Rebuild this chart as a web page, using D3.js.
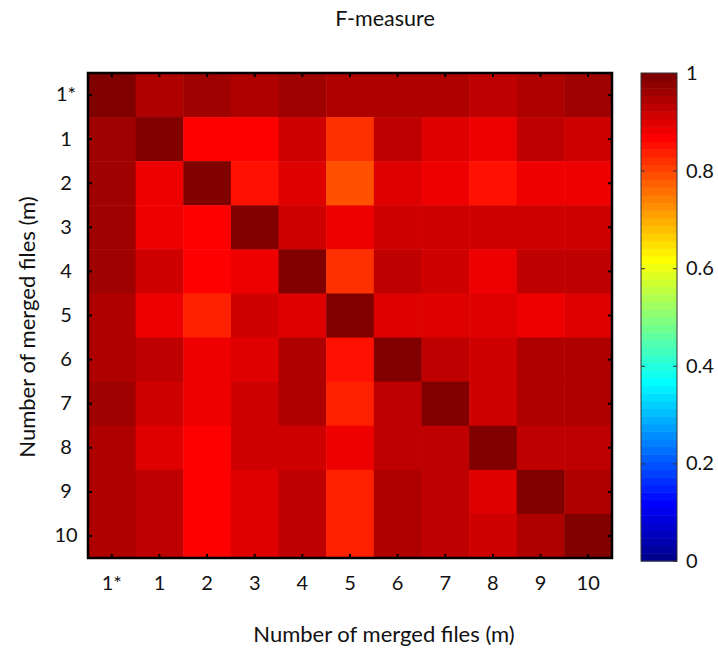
<!DOCTYPE html>
<html>
<head>
<meta charset="utf-8">
<script src="https://cdn.jsdelivr.net/npm/d3@7"></script>
<style>
body { margin: 0; background: #fff; }
text { font-family: Lato, "Open Sans", sans-serif; fill: #111; }
</style>
</head>
<body>
<div id="chart"></div>
<script>
// row / column labels (same order for both axes)
var labels = ["1*", "1", "2", "3", "4", "5", "6", "7", "8", "9", "10"];

// F-measure values, one array per row (top to bottom)
var row1s = [1.00, 0.945, 0.96, 0.945, 0.96, 0.945, 0.945, 0.945, 0.93, 0.945, 0.96];
var row1  = [0.96, 1.00, 0.87, 0.87, 0.91, 0.82, 0.93, 0.90, 0.88, 0.93, 0.91];
var row2  = [0.96, 0.88, 1.00, 0.85, 0.90, 0.79, 0.90, 0.88, 0.85, 0.88, 0.88];
var row3  = [0.96, 0.88, 0.87, 1.00, 0.91, 0.88, 0.91, 0.91, 0.91, 0.91, 0.91];
var row4  = [0.96, 0.91, 0.87, 0.88, 1.00, 0.82, 0.93, 0.91, 0.88, 0.93, 0.93];
var row5  = [0.945, 0.88, 0.84, 0.91, 0.90, 1.00, 0.90, 0.90, 0.90, 0.88, 0.90];
var row6  = [0.945, 0.93, 0.88, 0.90, 0.945, 0.85, 1.00, 0.93, 0.91, 0.945, 0.945];
var row7  = [0.96, 0.91, 0.88, 0.91, 0.945, 0.84, 0.93, 1.00, 0.91, 0.945, 0.945];
var row8  = [0.945, 0.90, 0.87, 0.91, 0.91, 0.88, 0.93, 0.93, 1.00, 0.93, 0.93];
var row9  = [0.945, 0.935, 0.87, 0.90, 0.93, 0.84, 0.945, 0.93, 0.90, 1.00, 0.945];
var row10 = [0.945, 0.935, 0.87, 0.90, 0.93, 0.84, 0.945, 0.93, 0.91, 0.945, 1.00];
var rows = [row1s, row1, row2, row3, row4, row5, row6, row7, row8, row9, row10];

var colorTicks = [0, 0.2, 0.4, 0.6, 0.8, 1];

var w = 718, h = 650;
var plot = {left: 88, right: 612, top: 73, bottom: 558};
var bar = {left: 641, right: 677, top: 73, bottom: 561};

// matlab style jet colormap with 64 steps
function jet(n) {
  var q = Math.ceil(n / 4), u = [], i;
  for (i = 1; i <= q; i++) u.push(i / q);
  for (i = 1; i < q; i++) u.push(1);
  for (i = q; i >= 1; i--) u.push(i / q);
  var off = Math.ceil(q / 2) - (n % 4 == 1 ? 1 : 0);
  var c = d3.range(n).map(function() { return [0, 0, 0]; });
  u.forEach(function(v, k) {
    var g = off + k + 1, r = g + q, b = g - q;
    if (r >= 1 && r <= n) c[r - 1][0] = v;
    if (g >= 1 && g <= n) c[g - 1][1] = v;
    if (b >= 1 && b <= n) c[b - 1][2] = v;
  });
  return c.map(function(d) { return d3.rgb(d[0] * 255, d[1] * 255, d[2] * 255).toString(); });
}
var jetColors = jet(64);
var color = d3.scaleQuantize().domain([0, 1]).range(jetColors);

var x = d3.scaleBand().domain(labels).range([plot.left, plot.right]);
var y = d3.scaleBand().domain(labels).range([plot.top, plot.bottom]);

var svg = d3.select("#chart").append("svg")
  .attr("width", w)
  .attr("height", h);

var cells = [];
rows.forEach(function(r, i) {
  r.forEach(function(v, j) {
    cells.push({row: labels[i], col: labels[j], value: v});
  });
});

svg.append("g").selectAll("rect")
  .data(cells)
  .enter()
  .append("rect")
  .attr("x", function(d) { return x(d.col); })
  .attr("y", function(d) { return y(d.row); })
  .attr("width", x.bandwidth() + 0.5)
  .attr("height", y.bandwidth() + 0.5)
  .attr("fill", function(d) { return color(d.value); });

// axes, ticks pointing inside the box
var xBottom = svg.append("g")
  .attr("transform", "translate(0," + plot.bottom + ")")
  .call(d3.axisBottom(x).tickSize(-4).tickPadding(18));
var yLeft = svg.append("g")
  .attr("transform", "translate(" + plot.left + ",0)")
  .call(d3.axisLeft(y).tickSize(-4).tickPadding(22));
var xTop = svg.append("g")
  .attr("transform", "translate(0," + plot.top + ")")
  .call(d3.axisTop(x).tickSize(-4).tickFormat(""));
var yRight = svg.append("g")
  .attr("transform", "translate(" + plot.right + ",0)")
  .call(d3.axisRight(y).tickSize(-4).tickFormat(""));

[xBottom, yLeft, xTop, yRight].forEach(function(g) {
  g.select(".domain").remove();
  g.selectAll(".tick line").attr("stroke", "#000").attr("stroke-width", 2);
  g.selectAll(".tick text").attr("font-size", 20).attr("font-family", "Lato");
});
yLeft.selectAll(".tick text").attr("text-anchor", "middle").attr("x", -22);

svg.append("rect")
  .attr("x", plot.left)
  .attr("y", plot.top)
  .attr("width", plot.right - plot.left)
  .attr("height", plot.bottom - plot.top)
  .attr("fill", "none")
  .attr("stroke", "#000")
  .attr("stroke-width", 2.5);

// colorbar
var cScale = d3.scaleLinear().domain([0, 1]).range([bar.bottom, bar.top]);
var step = 1 / jetColors.length;
svg.append("g").selectAll("rect")
  .data(jetColors)
  .enter()
  .append("rect")
  .attr("x", bar.left)
  .attr("y", function(d, i) { return cScale((i + 1) * step); })
  .attr("width", bar.right - bar.left)
  .attr("height", cScale(0) - cScale(step) + 0.5)
  .attr("fill", function(d) { return d; });

var cAxis = svg.append("g")
  .attr("transform", "translate(" + bar.right + ",0)")
  .call(d3.axisRight(cScale).tickValues(colorTicks).tickSize(-4).tickPadding(9)
    .tickFormat(function(d) { return d == 0 || d == 1 ? d : d3.format(".1f")(d); }));
cAxis.select(".domain").remove();
cAxis.selectAll(".tick text").attr("font-size", 20).attr("font-family", "Lato");
cAxis.selectAll(".tick line").attr("stroke", "#333");
var cAxisL = svg.append("g")
  .attr("transform", "translate(" + bar.left + ",0)")
  .call(d3.axisLeft(cScale).tickValues(colorTicks.slice(1, 5)).tickSize(-4).tickFormat(""));
cAxisL.select(".domain").remove();
cAxisL.selectAll(".tick line").attr("stroke", "#333");

svg.append("rect")
  .attr("x", bar.left)
  .attr("y", bar.top)
  .attr("width", bar.right - bar.left)
  .attr("height", bar.bottom - bar.top)
  .attr("fill", "none")
  .attr("stroke", "#333")
  .attr("stroke-width", 1);

// titles
svg.append("text")
  .text("F-measure")
  .attr("x", 385)
  .attr("y", 26)
  .attr("text-anchor", "middle")
  .attr("font-size", 21.5);

svg.append("text")
  .text("Number of merged files (m)")
  .attr("x", 384)
  .attr("y", 642)
  .attr("text-anchor", "middle")
  .attr("font-size", 22);

svg.append("text")
  .text("Number of merged files (m)")
  .attr("transform", "translate(35,327) rotate(-90)")
  .attr("text-anchor", "middle")
  .attr("font-size", 22);
</script>
</body>
</html>
